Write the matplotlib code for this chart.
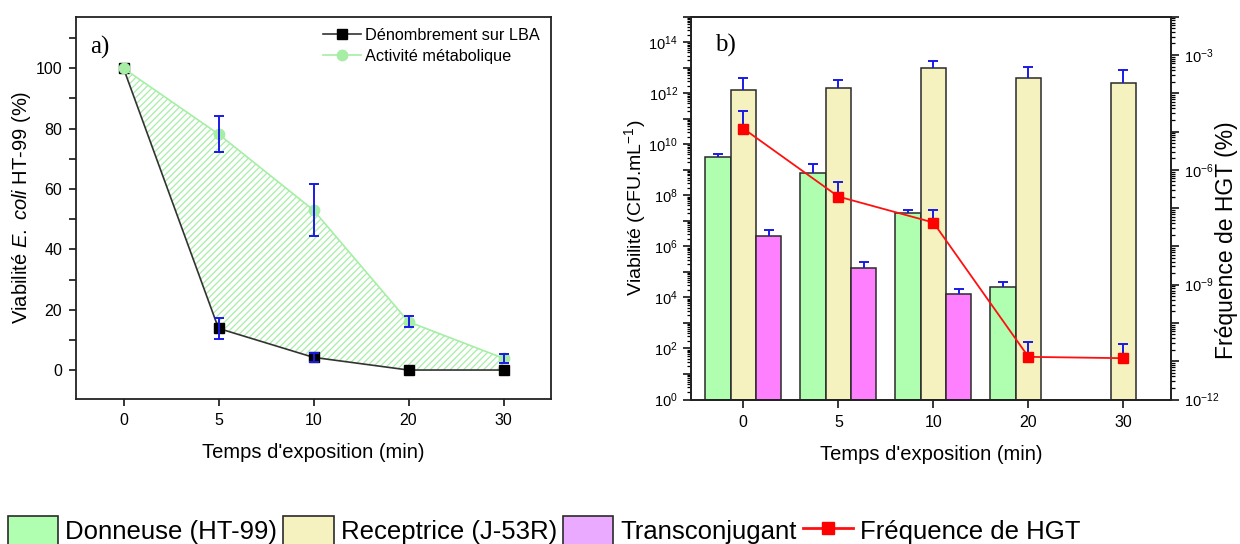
import numpy as np
import matplotlib
matplotlib.use("Agg")
import matplotlib.pyplot as plt
from matplotlib.ticker import (FixedLocator, LogLocator, FuncFormatter,
                               NullFormatter)
from matplotlib.patches import Patch
from matplotlib.lines import Line2D

plt.rcParams['font.family'] = ['Liberation Sans', 'DejaVu Sans']
plt.rcParams['mathtext.fontset'] = 'custom'
plt.rcParams['mathtext.rm'] = 'Liberation Sans'
plt.rcParams['mathtext.it'] = 'Liberation Sans:italic'
plt.rcParams['mathtext.bf'] = 'Liberation Sans:bold'
plt.rcParams['hatch.linewidth'] = 0.9

# ---------------- data ----------------
times = ['0', '5', '10', '20', '30']

# panel a)
denombrement = [100, 13.8, 4.2, 0, 0]
denombrement_err = [0, 3.4, 1.6, 0, 0]
activite = [100, 78.2, 53.0, 16.0, 3.9]
activite_err = [0, 6.1, 8.6, 1.9, 1.5]

# panel b)
donneuse = [3.2e9, 7.4e8, 2.0e7, 2.6e4, np.nan]
donneuse_err = [1.1e9, 9.6e8, 7.0e6, 1.3e4, np.nan]
receptrice = [1.4e12, 1.6e12, 1.0e13, 3.8e12, 2.6e12]
receptrice_err = [2.4e12, 1.6e12, 9.0e12, 6.7e12, 5.2e12]
transconjugant = [2.6e6, 1.4e5, 1.4e4, np.nan, np.nan]
transconjugant_err = [1.7e6, 1.0e5, 7.0e3, np.nan, np.nan]
frequence = [1.2e-5, 2.0e-7, 4.2e-8, 1.3e-11, 1.2e-11]
frequence_err = [2.3e-5, 2.9e-7, 4.9e-8, 1.9e-11, 1.6e-11]

# ---------------- styles ----------------
BLUE = '#1a1ae6'
GREEN_LINE = '#a6eea6'
C_DON = '#b0ffb0'
C_REC = '#f5f2c0'
C_TRA = '#ff80ff'
C_TRA_LEG = '#eaaaff'
EDGE = '#2a2a2a'
LABEL_FS = 14.5

fig = plt.figure(figsize=(12.4, 5.44), dpi=100)

# ================= panel a =================
ax1 = fig.add_axes([76/1240, 1-399/544, 475/1240, (399-16.7)/544])
x = np.arange(len(times))
ax1.fill_between(x, activite, denombrement, facecolor='none',
                 edgecolor=GREEN_LINE, hatch='/////', linewidth=0, zorder=1)
l1, = ax1.plot(x, denombrement, color='#333333', lw=1.2, marker='s', ms=6.5,
               mfc='black', mec='black', zorder=3, label='Dénombrement sur LBA')
l2, = ax1.plot(x, activite, color=GREEN_LINE, lw=1.2, marker='o', ms=7.5,
               mfc=GREEN_LINE, mec=GREEN_LINE, zorder=4, label='Activité métabolique')

d = np.array(denombrement, float); de = np.array(denombrement_err, float)
m = de > 0
ax1.errorbar(x[m], d[m], yerr=de[m], fmt='none', ecolor=BLUE, elinewidth=1.4,
             capsize=3.5, capthick=1.4, zorder=5)
a = np.array(activite, float); ae = np.array(activite_err, float)
m = ae > 0
ax1.errorbar(x[m], a[m], yerr=ae[m], fmt='none', ecolor=BLUE, elinewidth=1.4,
             capsize=3.5, capthick=1.4, zorder=5)

ax1.set_xlim(-0.5, 4.5)
ax1.set_ylim(-9.6, 117.1)
ax1.set_xticks(x)
ax1.set_xticklabels(times)
ax1.yaxis.set_major_locator(FixedLocator([0, 20, 40, 60, 80, 100]))
ax1.yaxis.set_minor_locator(FixedLocator([-10, 10, 30, 50, 70, 90, 110]))
ax1.tick_params(axis='both', which='major', direction='out', length=5,
                width=1.1, labelsize=11.5, top=False, right=False, pad=5)
ax1.tick_params(axis='y', which='minor', direction='out', length=5, width=1.1)
for s in ax1.spines.values():
    s.set_linewidth(1.3)
    s.set_color('#222222')
ax1.set_xlabel("Temps d'exposition (min)", fontsize=LABEL_FS, labelpad=11)
ax1.set_ylabel(r"Viabilité $\mathit{E.}$ $\mathit{coli}$ HT-99 (%)",
               fontsize=LABEL_FS, labelpad=1.5)
ax1.text(0.03, 0.92, 'a)', transform=ax1.transAxes, fontsize=18,
         family='Liberation Serif', va='center', ha='left')
ax1.legend(handles=[l1, l2], loc='upper right', frameon=False, fontsize=11.7,
           handlelength=2.3, handletextpad=0.25, borderaxespad=0.3,
           labelspacing=0.35)

# ================= panel b =================
ax2 = fig.add_axes([691/1240, 1-399.5/544, 480/1240, (399.5-16.7)/544])
w = 0.267
blocks = [(donneuse, donneuse_err, -w, C_DON),
          (receptrice, receptrice_err, 0.0, C_REC),
          (transconjugant, transconjugant_err, w, C_TRA)]
ax2.set_yscale('log')
for vals, errs, off, col in blocks:
    v = np.array(vals, float); e = np.array(errs, float)
    m = ~np.isnan(v)
    ax2.bar(x[m] + off, v[m], w, bottom=1, color=col, edgecolor=EDGE,
            linewidth=1.1, zorder=2)
    eb = ax2.errorbar(x[m] + off, v[m], yerr=[np.zeros(m.sum()), e[m]],
                      fmt='none', ecolor=BLUE, elinewidth=1.4, capsize=3.5,
                      capthick=1.4, zorder=3)
    eb[1][0].set_visible(False)

ax2.set_xlim(-0.55, 4.5)
ax2.set_ylim(1, 1e15)
ax2.set_xticks(x)
ax2.set_xticklabels(times)
ax2.yaxis.set_major_locator(LogLocator(base=10, numticks=40))
ax2.yaxis.set_minor_locator(LogLocator(base=10, subs=np.arange(2, 10), numticks=40))
ax2.yaxis.set_minor_formatter(NullFormatter())


def left_fmt(v, pos):
    e = int(round(np.log10(v)))
    return r'$\mathdefault{10^{%d}}$' % e if e % 2 == 0 else ''


ax2.yaxis.set_major_formatter(FuncFormatter(left_fmt))
ax2.tick_params(axis='both', which='major', direction='out', length=6,
                width=1.1, labelsize=10.5, top=False, right=False)
ax2.tick_params(axis='x', labelsize=11.5, pad=5)
ax2.tick_params(axis='y', which='minor', direction='out', length=3, width=0.9)
ax2.set_xlabel("Temps d'exposition (min)", fontsize=LABEL_FS, labelpad=11)
ax2.set_ylabel(r"Viabilité (CFU.mL$^{\mathdefault{-1}}$)", fontsize=14,
               labelpad=0)
ax2.text(0.05, 0.925, 'b)', transform=ax2.transAxes, fontsize=18,
         family='Liberation Serif', va='center', ha='left')

ax3 = ax2.twinx()
ax3.set_yscale('log')
f = np.array(frequence, float); fe = np.array(frequence_err, float)
ax3.plot(x, f, color='#ff1010', lw=1.3, marker='s', ms=7, mfc='#ff0000',
         mec='#ff0000', zorder=4)
eb = ax3.errorbar(x, f, yerr=[np.zeros(len(f)), fe], fmt='none', ecolor=BLUE,
                  elinewidth=1.4, capsize=3.5, capthick=1.4, zorder=3)
eb[1][0].set_visible(False)
ax3.set_ylim(1e-12, 1e-2)
ax3.yaxis.set_major_locator(LogLocator(base=10, numticks=40))
ax3.yaxis.set_minor_locator(LogLocator(base=10, subs=np.arange(2, 10), numticks=40))
ax3.yaxis.set_minor_formatter(NullFormatter())


def right_fmt(v, pos):
    e = int(round(np.log10(v)))
    return r'$\mathdefault{10^{%d}}$' % e if e % 3 == 0 else ''


ax3.yaxis.set_major_formatter(FuncFormatter(right_fmt))
ax3.tick_params(axis='y', which='major', direction='out', length=6, width=1.1,
                labelsize=10.5)
ax3.tick_params(axis='y', which='minor', direction='out', length=3, width=0.9)
ax3.set_ylabel("Fréquence de HGT (%)", fontsize=16.5)
ax3.yaxis.set_label_coords((1215 - 691) / 480, (399.5 - 240) / 382.8)
for axx in (ax2, ax3):
    for s in axx.spines.values():
        s.set_linewidth(1.3)
        s.set_color('#222222')

# ---------------- bottom legend ----------------
handles = [Patch(facecolor=C_DON, edgecolor=EDGE, linewidth=1.2),
           Patch(facecolor=C_REC, edgecolor=EDGE, linewidth=1.2),
           Patch(facecolor=C_TRA_LEG, edgecolor=EDGE, linewidth=1.2),
           Line2D([], [], color='#ff1010', lw=2, marker='s', ms=8,
                  mfc='#ff0000', mec='#ff0000')]
labels = ['Donneuse (HT-99)', 'Receptrice (J-53R)', 'Transconjugant',
          'Fréquence de HGT']
fig.legend(handles, labels, loc='upper left', bbox_to_anchor=(8/1240, 1-516/544),
           ncol=4, frameon=False, fontsize=18.5, handlelength=1.95,
           handleheight=1.4, handletextpad=0.27, columnspacing=0.25,
           borderpad=0, borderaxespad=0)

fig.savefig('out.png', dpi=100)
